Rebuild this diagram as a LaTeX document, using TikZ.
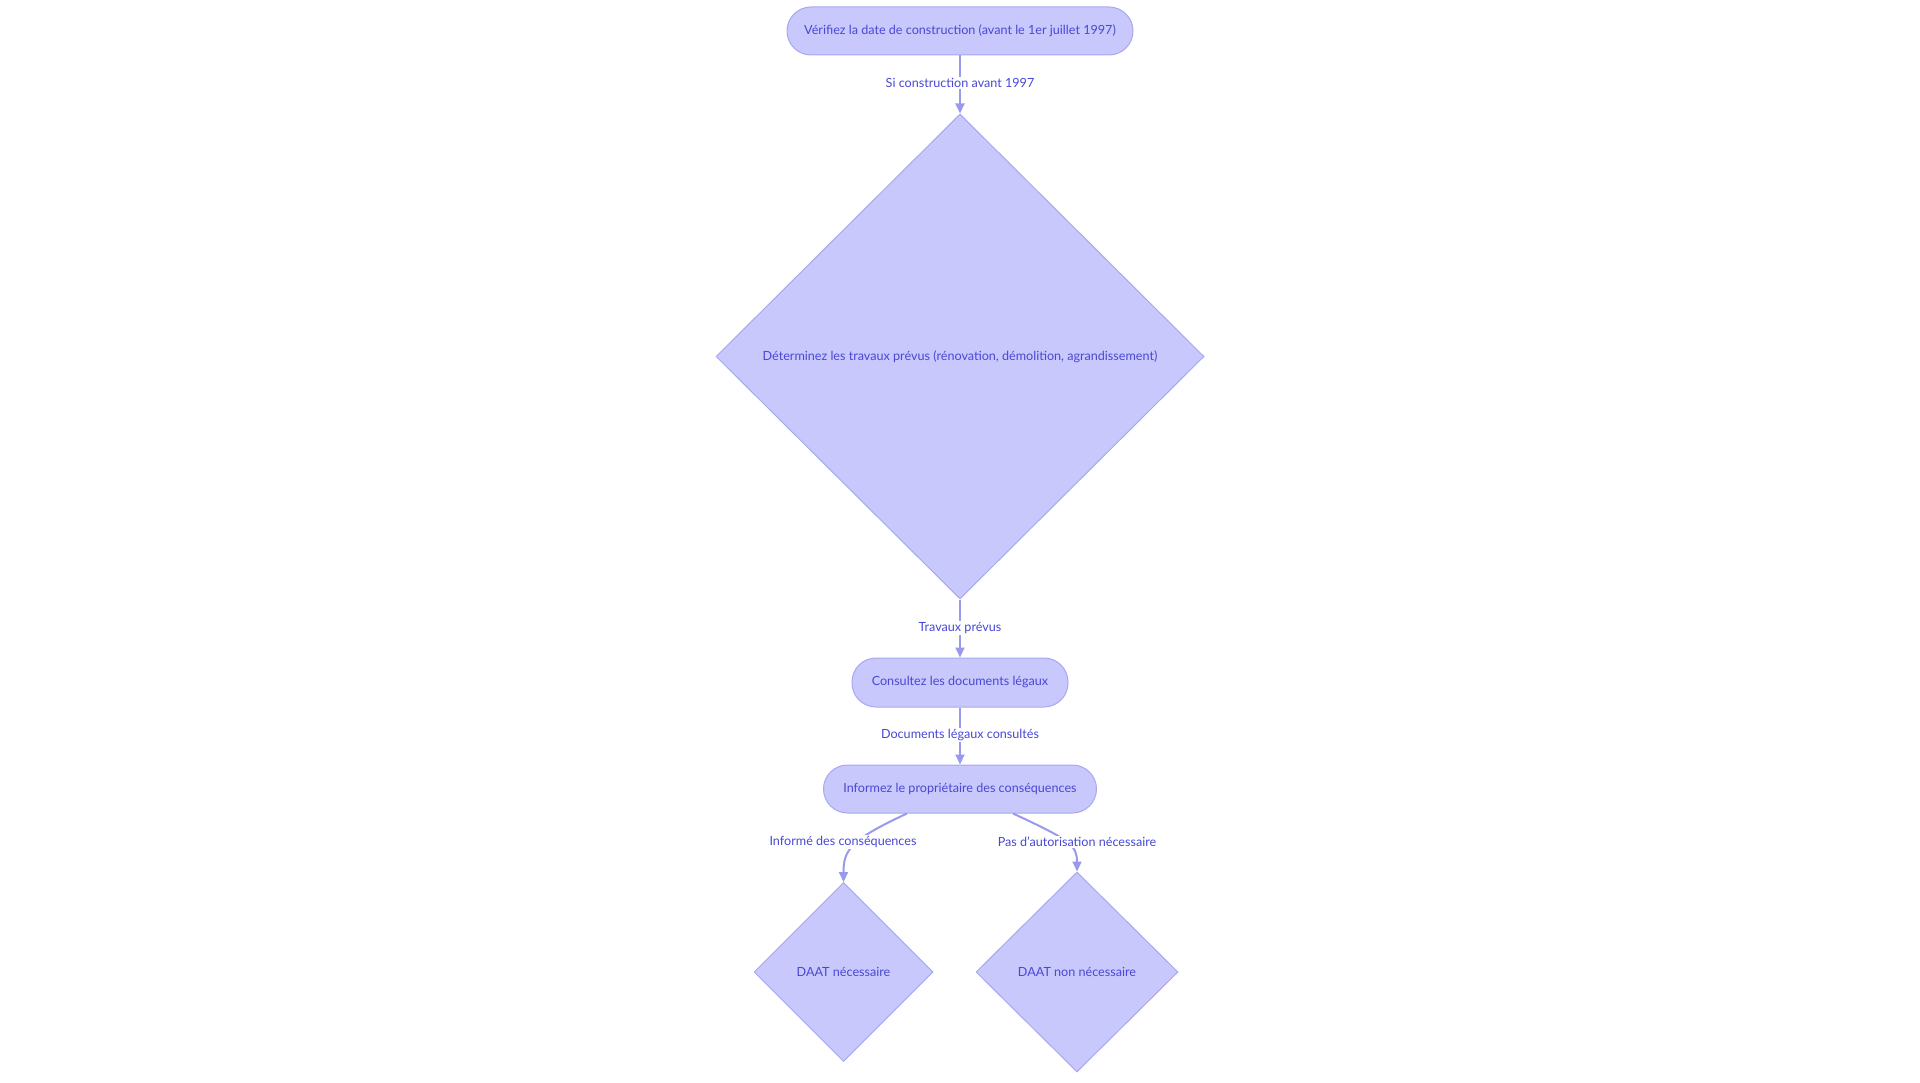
\documentclass[tikz,border=0pt]{standalone}
\usepackage{fontspec}
\setmainfont{Lato}
\usetikzlibrary{arrows.meta,shapes.geometric}
\definecolor{nfill}{RGB}{200,200,252}
\definecolor{nstroke}{RGB}{168,168,240}
\definecolor{ntext}{RGB}{72,72,214}
\definecolor{nedge}{RGB}{153,153,238}
\tikzset{
  pill/.style={draw=nstroke, fill=nfill, line width=1pt, rounded corners=24pt,
    minimum height=48pt, inner sep=0pt, text=ntext, font=\fontsize{12.6}{15}\selectfont},
  rhomb/.style={diamond, draw=nstroke, fill=nfill, line width=1pt, inner sep=0pt,
    text=ntext, font=\fontsize{12.6}{15}\selectfont},
  elabel/.style={fill=white, inner sep=1.5pt, text=ntext, font=\fontsize{12.6}{15}\selectfont},
  conn/.style={draw=nedge, line width=2pt, -{Triangle[length=10pt,width=9pt]}},
}
\begin{document}
\begin{tikzpicture}[x=1pt,y=-1pt]
\useasboundingbox (0,0) rectangle (1920,1083);
\node[pill, minimum width=346pt] (n1) at (960,31) {Vérifiez la date de construction (avant le 1er juillet 1997)};
\node[rhomb, minimum width=488pt, minimum height=485pt] (d0) at (960,356.5) {Déterminez les travaux prévus (rénovation, démolition, agrandissement)};
\node[pill, minimum width=216pt, minimum height=49pt] (n2) at (960,682.5) {Consultez les documents légaux};
\node[pill, minimum width=273pt] (n3) at (960,789) {Informez le propriétaire des conséquences};
\node[rhomb, minimum width=179pt, minimum height=179pt] (d1) at (843.5,972) {DAAT nécessaire};
\node[rhomb, minimum width=202pt, minimum height=200pt] (d2) at (1077,972) {DAAT non nécessaire};

\draw[conn] (n1) -- (d0);
\draw[conn] (d0) -- (n2);
\draw[conn] (n2) -- (n3);
\draw[conn] ([xshift=-53pt]n3.south) .. controls (850,840) and (843.5,850) .. (d1.north);
\draw[conn] ([xshift=53pt]n3.south) .. controls (1070,840) and (1077,845) .. (d2.north);

\node[elabel] (l1) at (960,83) {Si construction avant 1997};
\node[elabel] (l2) at (960,628) {Travaux prévus};
\node[elabel] (l3) at (960,735) {Documents légaux consultés};
\node[elabel] (l4) at (843,842) {Informé des conséquences};
\node[elabel] (l5) at (1077,842) {Pas d'autorisation nécessaire};
\end{tikzpicture}
\end{document}
